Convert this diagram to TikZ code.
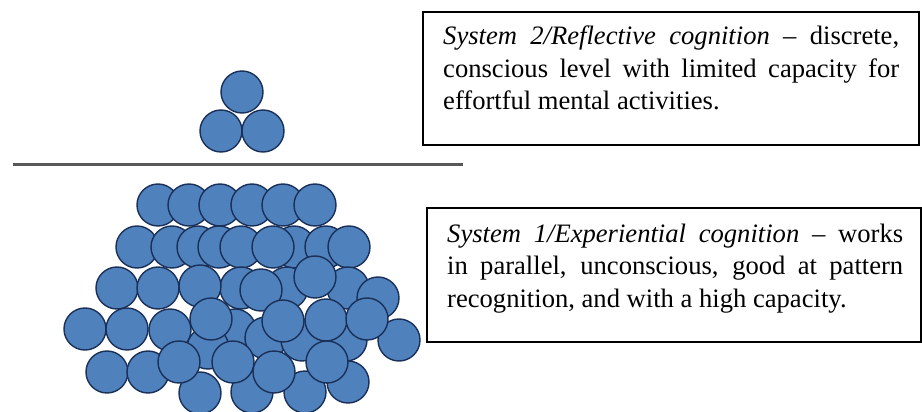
\documentclass[tikz,border=0pt]{standalone}
\usepackage{fontspec}
\setmainfont{Liberation Serif}
\definecolor{beadblue}{RGB}{79,129,189}
\definecolor{beadline}{RGB}{26,48,88}
\definecolor{rulegray}{RGB}{88,88,88}
\tikzset{
  bead/.style={circle, inner sep=0pt, minimum size=42pt, fill=beadblue, draw=beadline, line width=1.4pt},
  sysbox/.style={draw=black, line width=1.6pt, inner sep=0pt},
  systext/.style={inner sep=0pt, text width=456pt, align=justify, font=\fontsize{26.6}{32.5}\selectfont},
}
\begin{document}
\begin{tikzpicture}[x=1pt, y=-1pt]
	\useasboundingbox (0,0) rectangle (922,412);
	% reflective level: three beads above the line
	\foreach \x/\y [count=\i] in {242/92, 221/131, 263/131}
		\node[bead] (top\i) at (\x,\y) {};
	% the dividing line
	\coordinate (ruleL) at (13,164.5);
	\coordinate (ruleR) at (463,164.5);
	\draw[rulegray, line width=2.5pt] (ruleL) -- (ruleR);
	% experiential level: the heap, back to front
	\foreach \x/\y [count=\i] in {
		158/205, 189/205, 220/205, 252/205, 283/205, 315/205,
		137/247, 172/247, 198/247, 219/247, 241/247, 294/247, 273/247, 326/247, 349/247,
		241/288, 287/288, 117/288, 158/288, 200/286, 348/288, 378/298,
		261/290, 315/277,
		85/329, 127/329, 170/330, 235/330, 266/338, 302/340, 346/340, 399/340, 208/348,
		211/319, 283/321, 326/320, 367/319,
		200/393, 252/392, 305/392, 348/382,
		107/372, 148/372, 179/362, 233/362, 274/372, 327/362}
		\node[bead] (heap\i) at (\x,\y) {};
	% text boxes
	\node[sysbox, minimum width=496pt, minimum height=133pt] (box2) at (671,78.5) {};
	\node[systext, anchor=base west] (sys2) at (443,45) {\textit{System 2/Reflective cognition} -- discrete,\linebreak conscious level with limited capacity for\linebreak effortful mental activities.};
	\node[sysbox, minimum width=494pt, minimum height=134pt] (box1) at (674,275) {};
	\node[systext, anchor=base west] (sys1) at (447,242) {\textit{System 1/Experiential cognition} -- works\linebreak in parallel, unconscious, good at pattern\linebreak recognition, and with a high capacity.};
\end{tikzpicture}
\end{document}
